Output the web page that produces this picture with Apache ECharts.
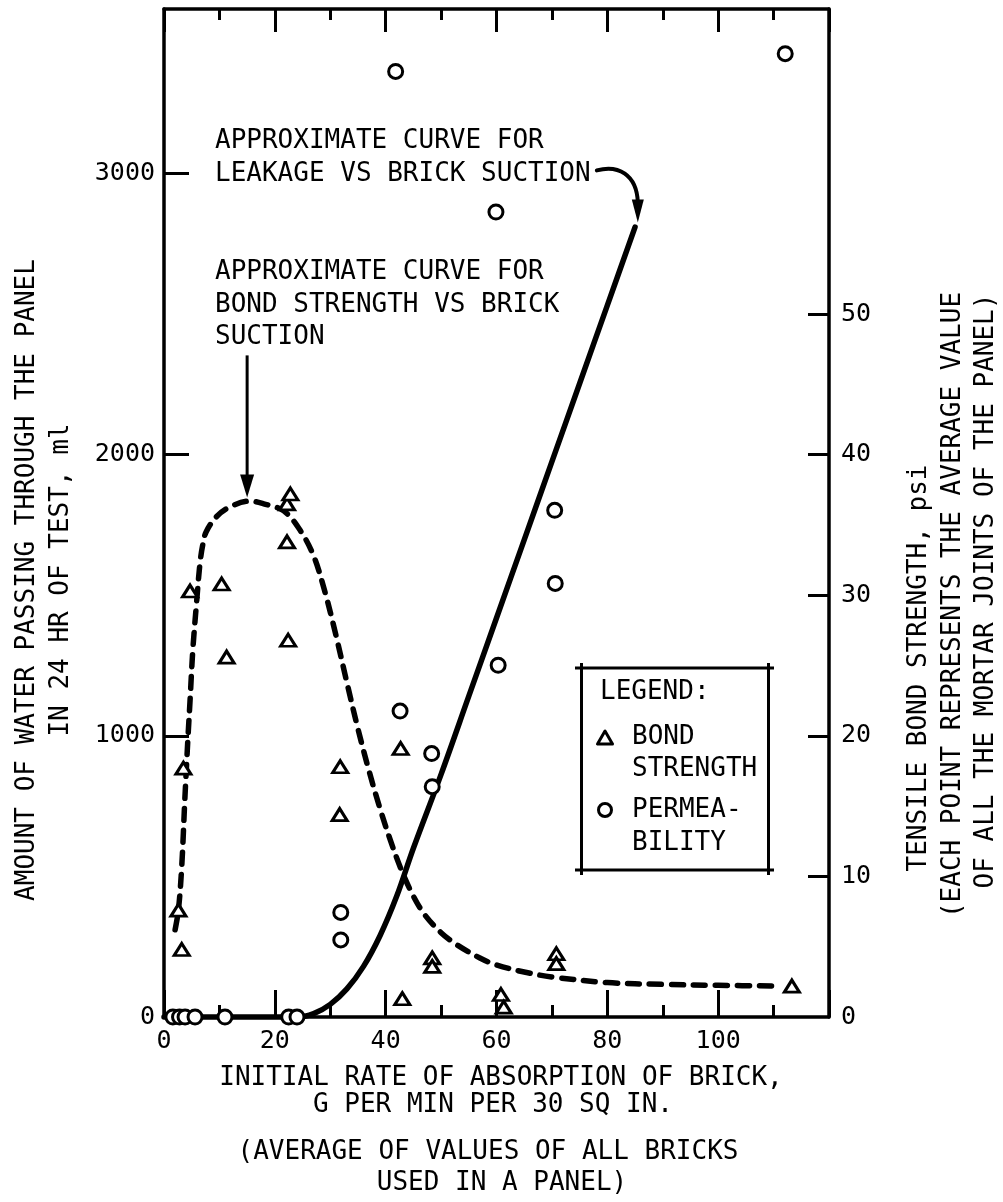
<!DOCTYPE html>
<html>
<head>
<meta charset="utf-8">
<script src="https://cdn.jsdelivr.net/npm/echarts/dist/echarts.min.js"></script>
<style>
  html, body { margin: 0; padding: 0; background: #fff; }
  #chart { width: 1003px; height: 1202px; }
</style>
</head>
<body>
<div id="chart"></div>
<script>
// ---------- DATA ----------
// Bond strength (triangles), x = initial rate of absorption, y = psi (right axis)
const bondX   = [2.6, 3.2, 3.5, 4.7, 10.4, 11.3, 22.2, 22.2, 22.8, 22.4, 31.8, 31.7, 42.7, 43.0, 48.4, 48.4, 60.8, 61.3, 70.8, 70.8, 113.3];
const bondPsi = [7.6, 4.8, 17.7, 30.3, 30.8, 25.6, 33.8, 36.5, 37.2, 26.8, 17.8, 14.4, 19.1, 1.3, 4.2, 3.6, 1.6, 0.7, 4.5, 3.8, 2.2];

// Permeability (circles), y = ml (left axis)
const permX  = [1.6, 2.8, 3.8, 5.6, 11.0, 22.5, 24.0, 31.9, 31.9, 41.8, 42.6, 48.3, 48.4, 59.9, 60.3, 70.5, 70.6, 112.1];
const permMl = [0, 0, 0, 0, 0, 0, 0, 372, 274, 3363, 1088, 937, 819, 2863, 1251, 1802, 1542, 3426];

// Approximate curve: leakage vs brick suction (solid, left axis)
const leakX  = [0, 24, 27, 30, 33, 36, 39, 42, 45, 50, 55, 60, 65, 70, 75, 80, 85];
const leakMl = [0, 0, 12, 45, 100, 180, 290, 430, 600, 863, 1141, 1419, 1697, 1975, 2253, 2531, 2809];

// Approximate curve: bond strength vs brick suction (dashed, right axis)
const bondCurveX   = [2.0, 2.6, 3.2, 3.75, 4.3, 4.7, 5.2, 5.9, 6.5, 7.0, 7.6, 9.5, 12, 15.5, 18, 21.6, 24.6, 27, 29, 31, 33, 35, 37, 39, 41, 43, 45, 47, 50, 53, 57, 60, 65, 70, 80, 90, 100, 111];
const bondCurvePsi = [6.2, 7.6, 10.7, 15.4, 19.7, 22.5, 26.1, 29.6, 32.3, 33.6, 34.5, 35.6, 36.3, 36.7, 36.5, 36.0, 34.6, 32.8, 30.3, 27.2, 23.8, 20.5, 17.5, 14.8, 12.4, 10.3, 8.6, 7.3, 6.0, 5.1, 4.2, 3.7, 3.2, 2.85, 2.45, 2.32, 2.25, 2.2];

// Tick labels
const xTickLabels     = [0, 20, 40, 60, 80, 100];
const leftTickLabels  = [0, 1000, 2000, 3000];
const leftTicks       = [1000, 2000, 3000];
const rightTickLabels = [0, 10, 20, 30, 40, 50];
const rightTicks      = [10, 20, 30, 40, 50];

// Annotation arrow tips (data coordinates)
const leakArrowTip = [85.5, 2826];   // left axis (ml)
const bondArrowTip = [15.0, 36.96];  // right axis (psi)

// ---------- CHART ----------
const FONT = '"DejaVu Sans Mono", monospace';
const chart = echarts.init(document.getElementById('chart'), null, { renderer: 'canvas' });

const zip = (a, b) => a.map((v, i) => [v, b[i]]);
const axisLineStyle = { show: true, onZero: false, lineStyle: { color: '#000', width: 3.5 } };
const tickLS = { color: '#000', width: 3 };
const plain = v => String(v);

const option = {
  animation: false,
  backgroundColor: '#fff',
  grid: { left: 164, right: 174, top: 9, bottom: 185, containLabel: false },
  xAxis: [
    {
      type: 'value', min: 0, max: 120, interval: 20, position: 'bottom',
      axisLine: axisLineStyle,
      axisTick: { show: true, inside: true, length: 27, lineStyle: tickLS },
      minorTick: { show: true, splitNumber: 2, length: 12, lineStyle: tickLS },
      splitLine: { show: false }, minorSplitLine: { show: false },
      axisLabel: { customValues: xTickLabels, formatter: plain, fontSize: 25, fontFamily: FONT, color: '#000', margin: 12 }
    },
    {
      type: 'value', min: 0, max: 120, interval: 20, position: 'top',
      axisLine: axisLineStyle,
      axisTick: { show: true, inside: true, length: 23, lineStyle: tickLS },
      minorTick: { show: true, splitNumber: 2, length: 11, lineStyle: tickLS },
      splitLine: { show: false }, minorSplitLine: { show: false },
      axisLabel: { show: false }
    }
  ],
  yAxis: [
    {
      type: 'value', min: 0, max: 3585, interval: 1000, position: 'left',
      axisLine: axisLineStyle,
      axisTick: { show: true, inside: true, length: 25, customValues: leftTicks, lineStyle: tickLS },
      splitLine: { show: false },
      axisLabel: { customValues: leftTickLabels, formatter: plain, fontSize: 25, fontFamily: FONT, color: '#000', margin: 9 }
    },
    {
      type: 'value', min: 0, max: 71.7, interval: 10, position: 'right',
      axisLine: axisLineStyle,
      axisTick: { show: true, inside: true, length: 21, customValues: rightTicks, lineStyle: tickLS },
      splitLine: { show: false },
      axisLabel: { customValues: rightTickLabels, formatter: plain, fontSize: 25, fontFamily: FONT, color: '#000', margin: 12 }
    }
  ],
  series: [
    {
      name: 'LEAKAGE CURVE', type: 'line', xAxisIndex: 0, yAxisIndex: 0,
      data: zip(leakX, leakMl), showSymbol: false, symbol: 'none',
      smooth: 0.35, clip: false, z: 2,
      lineStyle: { color: '#000', width: 5.5, cap: 'round', join: 'round' }
    },
    {
      name: 'BOND CURVE', type: 'line', xAxisIndex: 0, yAxisIndex: 1,
      data: zip(bondCurveX, bondCurvePsi), showSymbol: false, symbol: 'none',
      smooth: 0.35, clip: false, z: 2,
      lineStyle: { color: '#000', width: 5.5, type: [12, 10], cap: 'round', join: 'round' }
    },
    {
      name: 'BOND STRENGTH', type: 'scatter', xAxisIndex: 0, yAxisIndex: 1,
      data: zip(bondX, bondPsi), symbol: 'triangle', symbolSize: [15, 12], clip: false, z: 4,
      itemStyle: { color: '#fff', borderColor: '#000', borderWidth: 3, opacity: 1 }
    },
    {
      name: 'PERMEABILITY', type: 'scatter', xAxisIndex: 0, yAxisIndex: 0,
      data: zip(permX, permMl), symbol: 'circle', symbolSize: 14, clip: false, z: 4,
      itemStyle: { color: '#fff', borderColor: '#000', borderWidth: 3, opacity: 1 }
    }
  ]
};
chart.setOption(option);

// ---------- ANNOTATIONS / TITLES ----------
function txt(text, x, y, opts) {
  opts = opts || {};
  return {
    type: 'text', x: x, y: y, rotation: opts.rotation || 0, z: 10,
    style: {
      text: text, x: 0, y: 0, fill: '#000',
      fontSize: opts.size || 26, fontFamily: FONT,
      align: opts.align || 'center', verticalAlign: opts.valign || 'middle'
    }
  };
}
const R = Math.PI / 2;
const lt = chart.convertToPixel({ seriesIndex: 0 }, leakArrowTip);
const bt = chart.convertToPixel({ seriesIndex: 1 }, bondArrowTip);

const graphics = [
  // axis titles
  txt('AMOUNT OF WATER PASSING THROUGH THE PANEL', 27, 580, { rotation: R }),
  txt('IN 24 HR OF TEST, ml', 61, 580, { rotation: R }),
  txt('TENSILE BOND STRENGTH, psi', 919, 668, { rotation: R }),
  txt('(EACH POINT REPRESENTS THE AVERAGE VALUE', 953, 605, { rotation: R }),
  txt('OF ALL THE MORTAR JOINTS OF THE PANEL)', 986, 591, { rotation: R }),
  txt('INITIAL RATE OF ABSORPTION OF BRICK,', 501, 1078),
  txt('G PER MIN PER 30 SQ IN.', 493, 1105),
  txt('(AVERAGE OF VALUES OF ALL BRICKS', 488, 1152),
  txt('USED IN A PANEL)', 502, 1183),
  // annotations
  txt('APPROXIMATE CURVE FOR', 215, 141.5, { align: 'left' }),
  txt('LEAKAGE VS BRICK SUCTION', 215, 174, { align: 'left' }),
  txt('APPROXIMATE CURVE FOR', 215, 272.5, { align: 'left' }),
  txt('BOND STRENGTH VS BRICK', 215, 305, { align: 'left' }),
  txt('SUCTION', 215, 337, { align: 'left' }),
  // leakage arrow
  {
    type: 'bezierCurve', z: 10,
    shape: { x1: lt[0] - 41, y1: lt[1] - 52, cpx1: lt[0] - 20, cpy1: lt[1] - 58, cpx2: lt[0] - 1, cpy2: lt[1] - 48, x2: lt[0], y2: lt[1] - 20 },
    style: { stroke: '#000', lineWidth: 4, fill: null, lineCap: 'round' }
  },
  {
    type: 'polygon', z: 10,
    shape: { points: [[lt[0], lt[1]], [lt[0] - 6, lt[1] - 23], [lt[0] + 6, lt[1] - 23]] },
    style: { fill: '#000' }
  },
  // bond arrow
  {
    type: 'line', z: 10,
    shape: { x1: bt[0], y1: bt[1] - 142, x2: bt[0], y2: bt[1] - 20 },
    style: { stroke: '#000', lineWidth: 3 }
  },
  {
    type: 'polygon', z: 10,
    shape: { points: [[bt[0], bt[1]], [bt[0] - 7, bt[1] - 23], [bt[0] + 7, bt[1] - 23]] },
    style: { fill: '#000' }
  },
  // legend box (crossed-corner frame)
  { type: 'line', z: 10, shape: { x1: 575, y1: 668, x2: 774, y2: 668 }, style: { stroke: '#000', lineWidth: 3 } },
  { type: 'line', z: 10, shape: { x1: 575, y1: 870, x2: 774, y2: 870 }, style: { stroke: '#000', lineWidth: 3 } },
  { type: 'line', z: 10, shape: { x1: 581.5, y1: 663, x2: 581.5, y2: 875 }, style: { stroke: '#000', lineWidth: 3 } },
  { type: 'line', z: 10, shape: { x1: 768.5, y1: 663, x2: 768.5, y2: 875 }, style: { stroke: '#000', lineWidth: 3 } },
  txt('LEGEND:', 600, 692, { align: 'left' }),
  {
    type: 'polygon', z: 10,
    shape: { points: [[605, 731], [597.5, 744], [612.5, 744]] },
    style: { fill: '#fff', stroke: '#000', lineWidth: 3, lineJoin: 'round' }
  },
  txt('BOND', 632, 737, { align: 'left' }),
  txt('STRENGTH', 632, 769, { align: 'left' }),
  {
    type: 'circle', z: 10,
    shape: { cx: 605, cy: 810, r: 6.5 },
    style: { fill: '#fff', stroke: '#000', lineWidth: 3 }
  },
  txt('PERMEA-', 632, 810, { align: 'left' }),
  txt('BILITY', 632, 843, { align: 'left' })
];
chart.setOption({ graphic: graphics });
</script>
</body>
</html>
